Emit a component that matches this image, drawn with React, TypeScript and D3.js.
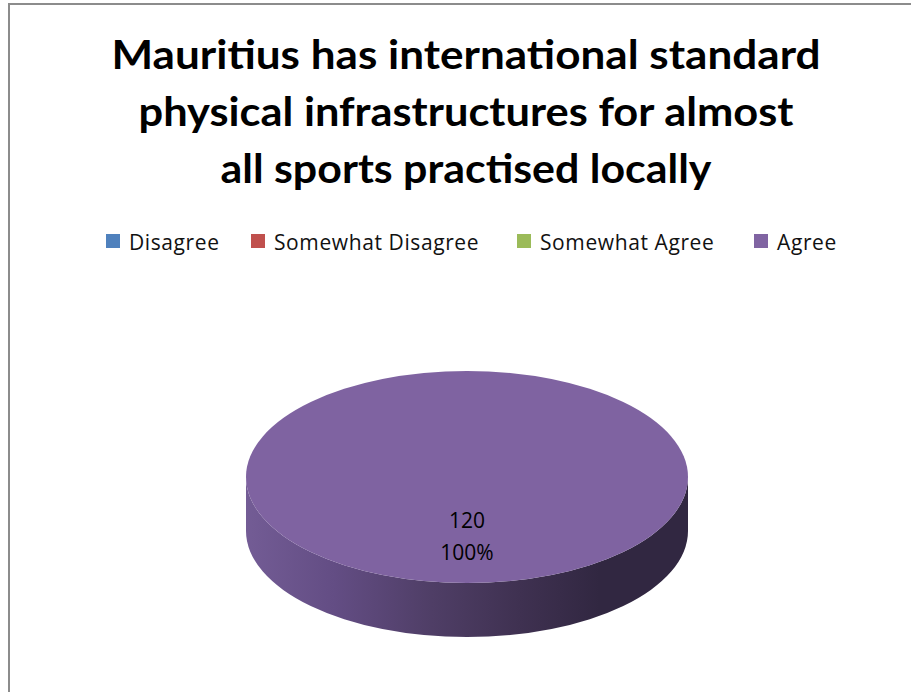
import React from "react";
import * as d3 from "d3";

const titleLines = [
  "Mauritius has international standard",
  "physical infrastructures for almost",
  "all sports practised locally",
];
const categories = ["Disagree", "Somewhat Disagree", "Somewhat Agree", "Agree"];
const values = [0, 0, 0, 120];
const colors = ["#4F81BD", "#C0504D", "#9BBB59", "#8064A2"];
const legendX = [106, 251, 517, 754];

const W = 911;
const H = 692;
const cx = 467;
const cy = 477;
const rx = 221;
const ry = 106;
const depth = 54;

function pt(a: number, dy = 0): [number, number] {
  return [cx + rx * Math.sin(a), cy - ry * Math.cos(a) + dy];
}

function topPath(a0: number, a1: number): string {
  if (a1 - a0 >= 2 * Math.PI - 1e-6) {
    const p0 = pt(0);
    const p1 = pt(Math.PI);
    return `M${p0[0]},${p0[1]} A${rx},${ry} 0 0 1 ${p1[0]},${p1[1]} A${rx},${ry} 0 0 1 ${p0[0]},${p0[1]} Z`;
  }
  const s = pt(a0);
  const e = pt(a1);
  const large = a1 - a0 > Math.PI ? 1 : 0;
  return `M${cx},${cy} L${s[0]},${s[1]} A${rx},${ry} 0 ${large} 1 ${e[0]},${e[1]} Z`;
}

function sidePath(a0: number, a1: number): string | null {
  const s = Math.max(a0, Math.PI / 2);
  const e = Math.min(a1, (3 * Math.PI) / 2);
  if (e <= s) return null;
  const m = (s + e) / 2;
  const ps = pt(s), pm = pt(m), pe = pt(e);
  const qs = pt(s, depth), qm = pt(m, depth), qe = pt(e, depth);
  return `M${ps[0]},${ps[1]} A${rx},${ry} 0 0 1 ${pm[0]},${pm[1]} A${rx},${ry} 0 0 1 ${pe[0]},${pe[1]} L${qe[0]},${qe[1]} A${rx},${ry} 0 0 0 ${qm[0]},${qm[1]} A${rx},${ry} 0 0 0 ${qs[0]},${qs[1]} Z`;
}

export default function App() {
  const data = categories.map((c, i) => ({ c, v: values[i], color: colors[i] }));
  const pie = d3
    .pie<{ c: string; v: number; color: string }>()
    .value((d) => d.v)
    .sort(null);
  const arcs = pie(data);
  const total = d3.sum(values);
  const fmtPct = d3.format(".0%");

  return (
    <svg
      width={W}
      height={H}
      style={{ position: "fixed", left: 0, top: 0, background: "#fff" }}
    >
      <defs>
        <linearGradient id="sideGrad" gradientUnits="userSpaceOnUse" x1={cx - rx} y1={0} x2={cx + rx} y2={0}>
          <stop offset="0" stopColor="#735c95" />
          <stop offset="0.2" stopColor="#634d84" />
          <stop offset="0.42" stopColor="#4f3e66" />
          <stop offset="0.62" stopColor="#3f3151" />
          <stop offset="0.8" stopColor="#312741" />
          <stop offset="1" stopColor="#312741" />
        </linearGradient>
      </defs>
      <rect x={0} y={0} width={W} height={H} fill="#fff" />
      <rect x={9} y={4} width={1000} height={1000} fill="none" stroke="#8c8c8c" strokeWidth={2} />

      {titleLines.map((t, i) => (
        <text
          key={i}
          x={466}
          y={69 + i * 57}
          textAnchor="middle"
          fontFamily="Lato, 'Open Sans', sans-serif"
          fontWeight="bold"
          fontSize={40}
          fill="#000"
          textLength={[709, 655, 491][i]}
          lengthAdjust="spacingAndGlyphs"
        >
          {t}
        </text>
      ))}

      {categories.map((c, i) => (
        <g key={c}>
          <rect x={legendX[i]} y={234} width={14} height={14} fill={colors[i]} />
          <text
            x={legendX[i] + 23}
            y={250}
            fontFamily="'Open Sans', sans-serif"
            fontSize={21}
            letterSpacing={0.6}
            fill="#111"
          >
            {c}
          </text>
        </g>
      ))}

      {arcs.map((a, i) => {
        const d = sidePath(a.startAngle, a.endAngle);
        return d ? <path key={"s" + i} d={d} fill={a.data.c === "Agree" ? "url(#sideGrad)" : d3.color(a.data.color)!.darker(1).toString()} /> : null;
      })}
      {arcs.map((a, i) =>
        a.endAngle > a.startAngle ? (
          <path key={"t" + i} d={topPath(a.startAngle, a.endAngle)} fill={d3.color(a.data.color)!.darker(0.02).toString()} />
        ) : null
      )}
      {arcs.map((a, i) => {
        if (a.data.v <= 0) return null;
        const mid = (a.startAngle + a.endAngle) / 2;
        const [lx, ly] = [cx + rx * 0.55 * Math.sin(mid), cy - ry * 0.55 * Math.cos(mid)];
        return (
          <text
            key={"l" + i}
            x={lx}
            textAnchor="middle"
            fontFamily="'Open Sans', sans-serif"
            fontSize={21}
            fill="#000"
          >
            <tspan x={lx} y={ly - 7}>{a.data.v}</tspan>
            <tspan x={lx} y={ly + 25}>{fmtPct(a.data.v / total)}</tspan>
          </text>
        );
      })}
    </svg>
  );
}
